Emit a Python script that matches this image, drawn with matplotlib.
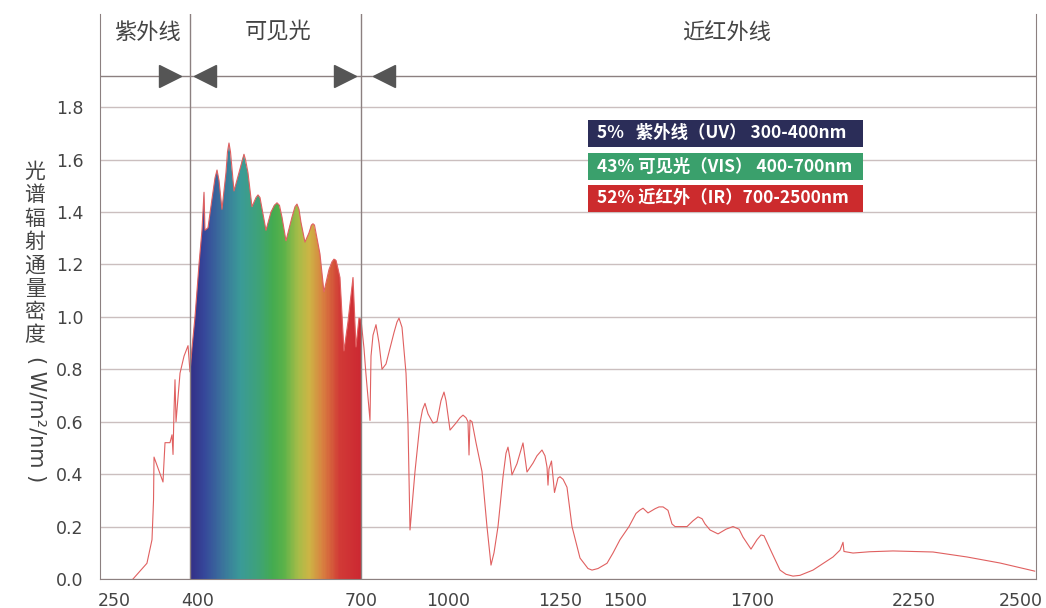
import numpy as np
import matplotlib.pyplot as plt
import matplotlib.transforms as mtransforms
from matplotlib.colors import LinearSegmentedColormap
from matplotlib.patches import Rectangle

CJK = ['Noto Sans CJK SC', 'DejaVu Sans']

# spectrum (wavelength nm, W/m2/nm)
wavelength = [287.5, 315, 325, 328, 329, 341, 346.7, 347.7, 350.7, 360.5, 364.5, 366.5, 368.4,
              370.4, 372.4, 376.3, 380.3, 388.2, 396.1, 400,
              403.5, 408.8, 415.8, 421, 422.8, 424.6, 426.3, 431.6, 438.6, 443.9, 447.4, 450.9,
              456.1, 463.1, 465.8, 468.4, 471.0, 477.2, 486, 492.1, 494.7, 497.3, 501.7, 508.7,
              515.8, 519.3, 522.8, 533.3, 542.1, 548.2, 552.6, 557.0, 561.4, 568.4,
              578.9, 584.2, 587.7, 591.2, 594.7, 601.7, 608.7, 613.1, 615.7, 618.4, 622.7, 628,
              635, 643.8, 649.1, 652.6, 656.1, 657.9, 663.1, 670.1, 677.1, 686, 691.2, 696.5, 700,
              710.3, 717.2, 731, 734.5, 741.4, 751.7, 762.1, 772.4, 786.2, 800, 813.8, 824.1, 831,
              841.4, 855.2, 862, 869, 886.2, 903.4, 912, 920.7, 931, 948.3, 962, 975.8, 986.2,
              993.1, 1004.5, 1017.9, 1026.8, 1033.5, 1040.2, 1044.6, 1046.9, 1049.1, 1053.6,
              1062.5, 1075.9, 1087, 1096, 1102.7, 1111.6, 1122.8, 1129.5, 1133.9, 1138.3, 1142.8,
              1154, 1167.4, 1176.3, 1189.7, 1198.6, 1209.8, 1216.5, 1221, 1223.2, 1225.4, 1231,
              1237.7, 1245.5, 1250, 1262, 1276.9, 1296.2, 1326.9, 1357.7, 1373.1, 1396.2, 1430.8,
              1453.8, 1480.8, 1506.3, 1517.3, 1523.6, 1528.4, 1536.2, 1547.3, 1553.6, 1559.9,
              1567.7, 1574, 1578.8, 1597.7, 1607.1, 1615, 1621.3, 1626, 1633.9, 1646.5, 1659.1,
              1670.1, 1679.6, 1685.8, 1698.4, 1717, 1730.6, 1740.7, 1750.9, 1767.9, 1795.1,
              1815.4, 1839.2, 1863, 1907.1, 1975, 1998.8, 2009, 2012.3, 2042.9, 2100, 2178.7,
              2294.4, 2373.8, 2450.9, 2532]
irradiance = [0.0, 0.06, 0.15, 0.30, 0.465, 0.40, 0.37, 0.41, 0.52, 0.52, 0.55, 0.475, 0.64,
              0.76, 0.60, 0.69, 0.785, 0.85, 0.89, 0.79,
              0.88, 1.0, 1.2, 1.33, 1.40, 1.475, 1.33, 1.34, 1.45, 1.53, 1.56, 1.52,
              1.41, 1.55, 1.63, 1.663, 1.63, 1.48, 1.55, 1.60, 1.62, 1.60, 1.55, 1.42,
              1.455, 1.465, 1.455, 1.33, 1.40, 1.425, 1.435, 1.425, 1.38, 1.29,
              1.38, 1.42, 1.43, 1.41, 1.36, 1.285, 1.32, 1.35, 1.355, 1.35, 1.30, 1.24,
              1.095, 1.18, 1.21, 1.22, 1.215, 1.20, 1.15, 0.87, 0.98, 1.15, 0.885, 0.995, 0.99,
              0.88, 0.78, 0.605, 0.85, 0.93, 0.97, 0.90, 0.80, 0.82, 0.88, 0.94, 0.98, 0.995,
              0.96, 0.785, 0.595, 0.187, 0.41, 0.595, 0.645, 0.67, 0.63, 0.595, 0.60, 0.68, 0.713,
              0.68, 0.568, 0.595, 0.615, 0.625, 0.615, 0.60, 0.473, 0.606, 0.60,
              0.52, 0.41, 0.2, 0.053, 0.10, 0.2, 0.39, 0.48, 0.503, 0.46, 0.397,
              0.44, 0.519, 0.408, 0.442, 0.47, 0.492, 0.47, 0.427, 0.358, 0.42, 0.45,
              0.33, 0.385, 0.39, 0.38, 0.35, 0.2, 0.08, 0.04, 0.034, 0.04, 0.06,
              0.099, 0.15, 0.2, 0.25, 0.263, 0.27, 0.252, 0.268, 0.275, 0.275,
              0.262, 0.21, 0.2, 0.2, 0.222, 0.237, 0.23, 0.21, 0.187, 0.172, 0.19,
              0.2, 0.19, 0.16, 0.114, 0.15, 0.168, 0.165, 0.14, 0.099, 0.034,
              0.018, 0.011, 0.014, 0.034, 0.084, 0.11, 0.14, 0.105, 0.099, 0.104, 0.107,
              0.103, 0.084, 0.061, 0.03]

band_edges = [400, 700]
band_names = ['紫外线', '可见光', '近红外线']
band_label_nm = [315, 555, 1660]

xtick_nm = [250, 400, 700, 1000, 1250, 1500, 1700, 2250, 2500]
ytick_vals = [0.0, 0.2, 0.4, 0.6, 0.8, 1.0, 1.2, 1.4, 1.6, 1.8]

legend_texts = ['5%   紫外线（UV） 300-400nm',
                '43% 可见光（VIS） 400-700nm',
                '52% 近红外（IR）700-2500nm']
legend_colors = ['#2b2d58', '#3aa06c', '#cc2b2d']

# the axis in the picture is stretched unevenly between the labelled ticks
axis_nm = [225, 250, 400, 700, 1000, 1250, 1500, 1700, 2250, 2500, 2535]
axis_pos = [100, 114, 190, 361, 448, 560, 625, 752, 914, 1021, 1036]


def fwd(x):
    return np.interp(x, axis_nm, axis_pos)


def inv(x):
    return np.interp(x, axis_pos, axis_nm)


fig = plt.figure(figsize=(10.46, 6.08), dpi=100)
ax = fig.add_axes([100 / 1046, 29 / 608, 936 / 1046, 565 / 608])
ax.set_xscale('function', functions=(fwd, inv))
ax.set_xlim(225, 2535)
ax.set_ylim(0, 2.155)

wl = np.array(wavelength)
ir = np.array(irradiance)

# visible band filled with a spectrum gradient
vis = (wl >= band_edges[0]) & (wl <= band_edges[1])
poly = ax.fill_between(wl[vis], 0, ir[vis], color='none', lw=0)
stops = [(400, '#322e86'), (425, '#36479a'), (452, '#3a6d9c'), (488, '#3a9a98'),
         (520, '#3ea278'), (545, '#44ab50'), (565, '#5bb249'), (590, '#a6bc48'),
         (610, '#cdb445'), (633, '#d88040'), (663, '#d13a36'), (700, '#cc2832')]
cmap = LinearSegmentedColormap.from_list('vis', [((s - 400) / 300, c) for s, c in stops])
edges = np.linspace(400, 700, 301)
mesh = ax.pcolormesh(edges, [0, 1.8], ((edges[:-1] + edges[1:]) / 2).reshape(1, -1),
                     cmap=cmap, vmin=400, vmax=700, shading='flat', zorder=2)
mesh.set_clip_path(poly.get_paths()[0], ax.transData)

ax.plot(wl, ir, color='#e06060', lw=0.8, zorder=3)

line_c = '#8c8080'
ax.set_yticks(ytick_vals)
ax.set_yticklabels([f'{v:.1f}' for v in ytick_vals])
ax.set_xticks(xtick_nm)
ax.set_xticklabels([str(v) for v in xtick_nm])
ax.yaxis.grid(True, color='#cbbfbf', lw=1)
ax.set_axisbelow(True)
ax.tick_params(length=0, labelsize=12.5, colors='#444444')
ax.tick_params(axis='y', pad=12)
ax.tick_params(axis='x', pad=9)
for s in ['left', 'right', 'bottom']:
    ax.spines[s].set_color(line_c)
ax.spines['top'].set_visible(False)

# the 400 label sits a little right of its line in the original
fig.canvas.draw()
lab400 = ax.get_xticklabels()[1]
lab400.set_transform(lab400.get_transform() + mtransforms.ScaledTranslation(8 / 100, 0, fig.dpi_scale_trans))

for e in band_edges:
    ax.axvline(e, color=line_c, lw=1, zorder=4)
ax.axhline(1.918, color=line_c, lw=1)

# arrow heads beside each band edge
for e, dx_right, dx_left in [(400, -20, 15), (700, -16, 23)]:
    t_r = mtransforms.offset_copy(ax.transData, fig=fig, x=dx_right, y=0, units='dots')
    t_l = mtransforms.offset_copy(ax.transData, fig=fig, x=dx_left, y=0, units='dots')
    ax.plot([e], [1.918], marker='>', ms=16.5, color='#555555', transform=t_r, clip_on=False)
    ax.plot([e], [1.918], marker='<', ms=16.5, color='#555555', transform=t_l, clip_on=False)

for name, x in zip(band_names, band_label_nm):
    ax.text(x, 2.086, name, ha='center', va='center', fontsize=16, color='#444444', family=CJK)

# legend boxes
bt = mtransforms.blended_transform_factory(ax.transAxes, ax.transData)
box_tops = [1.751, 1.625, 1.503]
for txt, col, top in zip(legend_texts, legend_colors, box_tops):
    ax.add_patch(Rectangle((0.521, top - 0.103), 0.294, 0.103, transform=bt, fc=col, ec='none', zorder=5))
    ax.text(0.531, top - 0.0515, txt, transform=bt, ha='left', va='center', color='white',
            fontsize=12.5, fontweight='bold', family=CJK, zorder=6)

# y label: upright characters then the rotated unit
fig.text(35 / 1046, 1 - 161 / 608, '\n'.join('光谱辐射通量密度'), ha='center', va='top',
         fontsize=15, linespacing=1.08, color='#444444', family=CJK)
fig.text(36 / 1046, 1 - 419 / 608, '( W/m²/nm )', ha='center', va='center', rotation=-90,
         fontsize=15, color='#444444')

fig.savefig('out.png', dpi=100)
